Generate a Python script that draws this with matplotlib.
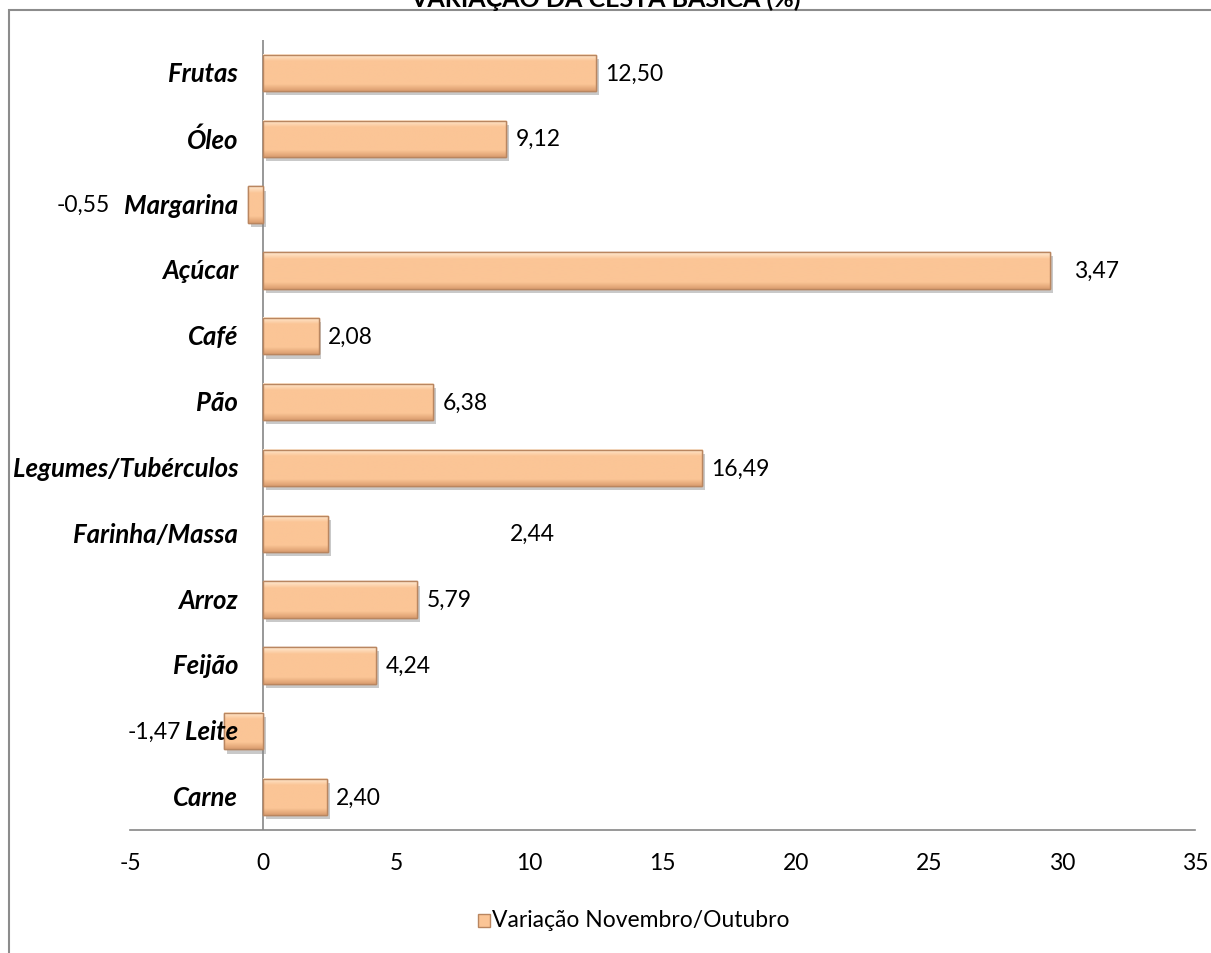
import matplotlib
matplotlib.use("Agg")
import numpy as np
import matplotlib.pyplot as plt
import matplotlib.patheffects as pe
from matplotlib.colors import to_rgb
from matplotlib.patches import Rectangle

plt.rcParams['font.family'] = ['Lato', 'DejaVu Sans']
plt.rcParams['axes.unicode_minus'] = False

# data, bottom to top
categories = ["Carne", "Leite", "Feijão", "Arroz", "Farinha/Massa", "Legumes/Tubérculos",
              "Pão", "Café", "Açúcar", "Margarina", "Óleo", "Frutas"]
values = [2.40, -1.47, 4.24, 5.79, 2.44, 16.49, 6.38, 2.08, 29.55, -0.55, 9.12, 12.50]
value_labels = ["2,40", "-1,47", "4,24", "5,79", "2,44", "16,49",
                "6,38", "2,08", "3,47", "-0,55", "9,12", "12,50"]
# where excel left the data labels
label_pos = [2.40, -3.1, 4.24, 5.79, 8.9, 16.49, 6.38, 2.08, 30.1, -5.75, 9.12, 12.50]
series_name = "Variação Novembro/Outubro"
title = "VARIAÇÃO DA CESTA BÁSICA (%)"

W, H = 1211, 954
fig = plt.figure(figsize=(W / 100, H / 100), dpi=100)
ax = fig.add_axes([130 / W, 1 - 831 / H, (1195 - 130) / W, (831 - 41) / H])

bar_h = 0.55
y = np.arange(len(categories))
shadow = [pe.withSimplePatchShadow(offset=(2, -3), shadow_rgbFace='#888888', alpha=0.45)]
bars = ax.barh(y, values, height=bar_h, color='#FBC596', edgecolor='#B98660',
               linewidth=1.0, path_effects=shadow, zorder=3)

# bevel-ish gradient: light top edge, darker bottom edge
light, mid, dark = map(np.array, (to_rgb('#FFE8CF'), to_rgb('#FBC596'), to_rgb('#DDA072')))
rows = []
for k in range(24):
    if k < 4:
        rows.append(light + (mid - light) * k / 4)
    elif k > 19:
        rows.append(mid + (dark - mid) * (k - 19) / 4)
    else:
        rows.append(mid)
grad = np.array(rows)[:, None, :]
for i, v in enumerate(values):
    x0, x1 = min(0, v), max(0, v)
    ax.imshow(grad, extent=(x0, x1, i - bar_h / 2, i + bar_h / 2), origin='upper',
              aspect='auto', zorder=3.5, interpolation='bilinear')
    ax.add_patch(Rectangle((x0, i - bar_h / 2), x1 - x0, bar_h, facecolor='none',
                           edgecolor='#B98660', linewidth=1.0, zorder=4))

for i, (v, p, lab) in enumerate(zip(values, label_pos, value_labels)):
    if v >= 0:
        ax.text(p + 0.35, i, lab, va='center', ha='left', fontsize=16.5, zorder=5)
    else:
        ax.text(p, i, lab, va='center', ha='right', fontsize=16.5, zorder=5)

ax.set_xlim(-5, 35)
ax.set_ylim(-0.5, len(categories) - 0.5)
ax.set_xticks(range(-5, 36, 5))
ax.set_yticks([])
for i, c in enumerate(categories):
    ax.annotate(c, xy=(0, i), xycoords='data', xytext=(-18, 0), textcoords='offset points',
                ha='right', va='center', fontsize=18.5, fontweight='bold', fontstyle='italic',
                zorder=6)

for s in ['top', 'right', 'left']:
    ax.spines[s].set_visible(False)
ax.spines['bottom'].set_color('#868686')
ax.spines['bottom'].set_linewidth(1.2)
ax.axvline(0, color='#868686', linewidth=1.2, zorder=2)
ax.tick_params(axis='x', length=0, labelsize=16.5, pad=16)

# legend
fig.text(492 / W, 1 - 921 / H, series_name, fontsize=16.5, va='center', ha='left')
fig.patches.append(Rectangle((478 / W, 1 - 928 / H), 12 / W, 13 / H, transform=fig.transFigure,
                             facecolor='#FBC596', edgecolor='#B98660', linewidth=1))

# chart border
fig.patches.append(Rectangle((9 / W, -0.1), 1.2, 1 - 11 / H + 0.1, transform=fig.transFigure,
                             facecolor='none', edgecolor='#8C8C8C', linewidth=1.5))
fig.text(605 / W, 1 - 7 / H, title, fontsize=18, fontweight='bold', ha='center', va='baseline')

fig.savefig("out.png", dpi=100)
